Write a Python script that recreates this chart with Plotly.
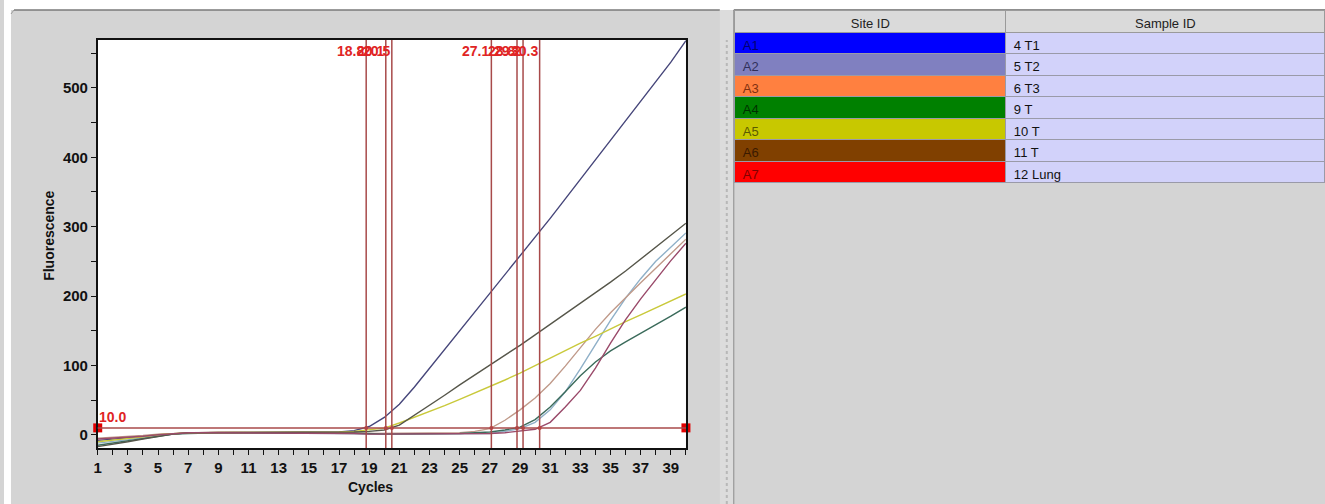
import plotly.graph_objects as go

W, H = 1325, 504

cycles = list(range(1, 41))

site_ids = ["A1", "A2", "A3", "A4", "A5", "A6", "A7"]
sample_ids = ["4 T1", "5 T2", "6 T3", "9 T", "10 T", "11 T", "12 Lung"]
site_colors = ["#0000ff", "#8080c0", "#ff8040", "#008000", "#c8c800", "#804000", "#ff0000"]
site_text_colors = ["#000070", "#30305a", "#803010", "#003000", "#5a5a00", "#3a1a00", "#800000"]
curve_colors = ["#46467a", "#8fb0c8", "#c09a8a", "#3b6b5b", "#c9c93a", "#56564a", "#9a4a6a"]

A1 = [-8, -6, -4, -2, 0, 2, 3,
      3, 3, 3, 3, 3, 3, 3, 3, 3, 4,
      6, 12, 25, 44, 69, 96, 123, 150, 177, 204, 230, 257, 284, 312, 340, 368, 396, 424, 452, 480, 508, 537, 568]
A2 = [-12, -10, -7, -4, -1, 1, 3,
      3, 3, 3, 2, 2, 2, 2, 2, 2, 2,
      2, 1, 1, 1, 1, 1, 1, 1, 1, 2,
      5, 9, 18, 36, 62, 95, 130, 165, 197, 225, 250, 271, 291]
A3 = [-5, -4, -3, -1, 1, 2, 3,
      3, 4, 4, 4, 3, 3, 3, 3, 3, 3,
      3, 2, 2, 2, 2, 2, 2, 3,
      5, 9, 21, 36, 53, 74, 99, 126, 152, 176, 198, 219, 240, 261, 282]
A4 = [-15, -12, -9, -5, -2, 1, 2,
      3, 3, 3, 3, 3, 3, 2, 2, 2, 2,
      2, 2, 1, 1, 1, 1, 2, 2, 3, 4,
      7, 11, 22, 40, 62, 85, 105, 121, 134, 146, 158, 171, 184]
A5 = [-10, -8, -5, -3, 0, 2, 3,
      3, 3, 3, 3, 3, 3, 3, 3, 3, 4,
      5, 7, 9.7,
      17, 25, 33, 42, 51, 60, 69, 79, 89, 100, 110, 121, 132, 142, 153, 163, 173, 183, 193, 203]
A6 = [-17, -14, -10, -6, -2, 1, 3,
      3, 3, 3, 3, 3, 3, 3, 3, 3, 3,
      4, 5, 7,
      14, 28, 42, 57, 72, 86, 100, 114, 129, 144, 159, 174, 189, 204, 220, 236, 253, 270, 287, 305]
A7 = [-6, -5, -4, -2, 0, 2, 3,
      3, 3, 3, 3, 3, 3, 3, 3, 3, 3,
      2, 1, 1, 1, 1, 1, 1, 1, 1, 2, 3, 5,
      8, 18, 40, 64, 96, 132, 166, 196, 224, 251, 276]
series = [A1, A2, A3, A4, A5, A6, A7]

ct_values = [18.8, 20.1, 20.5, 27.1, 28.8, 29.2, 30.3]
ct_labels = ["18.8", "20.1", "20.5", "27.1", "28.8", "29.2", "30.3"]
threshold = 10.0
threshold_label = "10.0"

x_ticks = list(range(1, 40, 2))
y_ticks = [0, 100, 200, 300, 400, 500]

FONT = "Liberation Sans, Arial, sans-serif"
LINE_RED = "#a84a4a"
TEXT_RED = "#e02424"


def px(x):
    return x / W


def py(y):
    return 1 - y / H


fig = go.Figure()

for sid, vals, col in zip(site_ids, series, curve_colors):
    fig.add_trace(go.Scatter(x=cycles, y=vals, mode="lines", name=sid,
                             line=dict(color=col, width=1.4), showlegend=False,
                             hoverinfo="skip"))

# threshold endpoint squares and Ct crossing dots
fig.add_trace(go.Scatter(x=[cycles[0], cycles[-1]], y=[threshold, threshold], mode="markers",
                         marker=dict(symbol="square", size=9, color="#e00000"),
                         cliponaxis=False, showlegend=False, hoverinfo="skip"))
fig.add_trace(go.Scatter(x=ct_values, y=[threshold] * len(ct_values), mode="markers",
                         marker=dict(symbol="circle", size=4, color="#e03030"),
                         showlegend=False, hoverinfo="skip"))

shapes = []
# background panels (paper coords)
shapes.append(dict(type="rect", xref="paper", yref="paper", x0=0, x1=1, y0=py(10), y1=1,
                   fillcolor="white", line=dict(width=0), layer="below"))
shapes.append(dict(type="rect", xref="paper", yref="paper", x0=0, x1=px(7), y0=0, y1=1,
                   fillcolor="white", line=dict(width=0), layer="below"))
shapes.append(dict(type="line", xref="paper", yref="paper", x0=px(10), x1=px(718), y0=py(10), y1=py(10),
                   line=dict(color="#7a7a7a", width=1.5), layer="below"))
shapes.append(dict(type="line", xref="paper", yref="paper", x0=px(7), x1=px(10), y0=py(14), y1=py(10),
                   line=dict(color="#9a9a9a", width=1), layer="below"))
# divider strip
shapes.append(dict(type="rect", xref="paper", yref="paper", x0=px(718), x1=px(732), y0=0, y1=py(10),
                   fillcolor="#dcdcdc", line=dict(width=0), layer="below"))
shapes.append(dict(type="line", xref="paper", yref="paper", x0=px(725), x1=px(725), y0=0, y1=py(40),
                   line=dict(color="#b8b8b8", width=2, dash="dot"), layer="below"))
shapes.append(dict(type="line", xref="paper", yref="paper", x0=px(732), x1=px(732), y0=0, y1=py(10),
                   line=dict(color="#8a8a8a", width=1), layer="below"))
shapes.append(dict(type="line", xref="paper", yref="paper", x0=px(732), x1=1, y0=py(10), y1=py(10),
                   line=dict(color="#6a6a6a", width=1.5), layer="below"))

# Ct vertical lines
for ct in ct_values:
    shapes.append(dict(type="line", xref="x", yref="y domain", x0=ct, x1=ct, y0=0, y1=1,
                       line=dict(color=LINE_RED, width=1.5)))
# threshold line
shapes.append(dict(type="line", xref="x domain", yref="y", x0=0, x1=1, y0=threshold, y1=threshold,
                   line=dict(color=LINE_RED, width=1.5)))

annotations = []
for ct, lab in zip(ct_values, ct_labels):
    annotations.append(dict(x=ct, y=py(51), xref="x", yref="paper", text=lab, showarrow=False,
                            xanchor="right", yanchor="middle",
                            font=dict(family=FONT, size=14, color=TEXT_RED, weight="bold")))
annotations.append(dict(x=cycles[0], y=threshold, xref="x", yref="y", text=threshold_label, showarrow=False,
                        xanchor="left", yanchor="bottom", yshift=1, xshift=-1,
                        font=dict(family=FONT, size=14, color=TEXT_RED, weight="bold")))
annotations.append(dict(x=px(368), y=py(487), xref="paper", yref="paper", text="Cycles", showarrow=False,
                        xanchor="center", yanchor="middle",
                        font=dict(family=FONT, size=14, color="#111", weight="bold")))
annotations.append(dict(x=px(45), y=py(236), xref="paper", yref="paper", text="Fluorescence", showarrow=False,
                        textangle=-90, xanchor="center", yanchor="middle",
                        font=dict(family=FONT, size=14, color="#111", weight="bold")))

# table
fig.add_trace(go.Table(
    domain=dict(x=[px(733), 1], y=[0, py(10)]),
    columnwidth=[272, 320],
    header=dict(values=["Site ID", "Sample ID"], height=22, align="center",
                fill_color="#dadada", line=dict(color="#9a9a9a", width=1),
                font=dict(family=FONT, size=13, color="#222")),
    cells=dict(values=[site_ids, sample_ids], height=21.5, align="left",
               fill_color=[site_colors, ["#d2d2fa"] * len(sample_ids)],
               line=dict(color="#9a9aa8", width=1),
               font=dict(family=FONT, size=13, color=[site_text_colors, ["#111"] * len(sample_ids)])),
))

fig.update_layout(
    width=W, height=H,
    margin=dict(l=0, r=0, t=0, b=0),
    paper_bgcolor="#d4d4d4",
    plot_bgcolor="white",
    shapes=shapes,
    annotations=annotations,
    showlegend=False,
    xaxis=dict(domain=[px(94), px(684)], range=[1, 40], tickmode="array", tickvals=x_ticks,
               ticks="outside", ticklen=5, tickwidth=1, tickcolor="#111",
               minor=dict(dtick=1, tick0=0, ticks="outside", ticklen=5, tickcolor="#111", tickwidth=1),
               showgrid=False, zeroline=False, showline=True, linecolor="#111", linewidth=1.5,
               mirror=True, tickfont=dict(family=FONT, size=15, color="#111", weight="bold")),
    yaxis=dict(domain=[py(448), py(40)], range=[-19, 569], tickmode="array", tickvals=y_ticks,
               ticks="outside", ticklen=5, tickwidth=1, tickcolor="#111",
               minor=dict(dtick=50, tick0=0, ticks="outside", ticklen=5, tickcolor="#111", tickwidth=1),
               showgrid=False, zeroline=False, showline=True, linecolor="#111", linewidth=1.5,
               mirror=True, tickfont=dict(family=FONT, size=15, color="#111", weight="bold")),
)

fig.write_html("out.html", config={"displayModeBar": False},
               post_script="document.body.style.margin='0';document.body.style.overflow='hidden';")
